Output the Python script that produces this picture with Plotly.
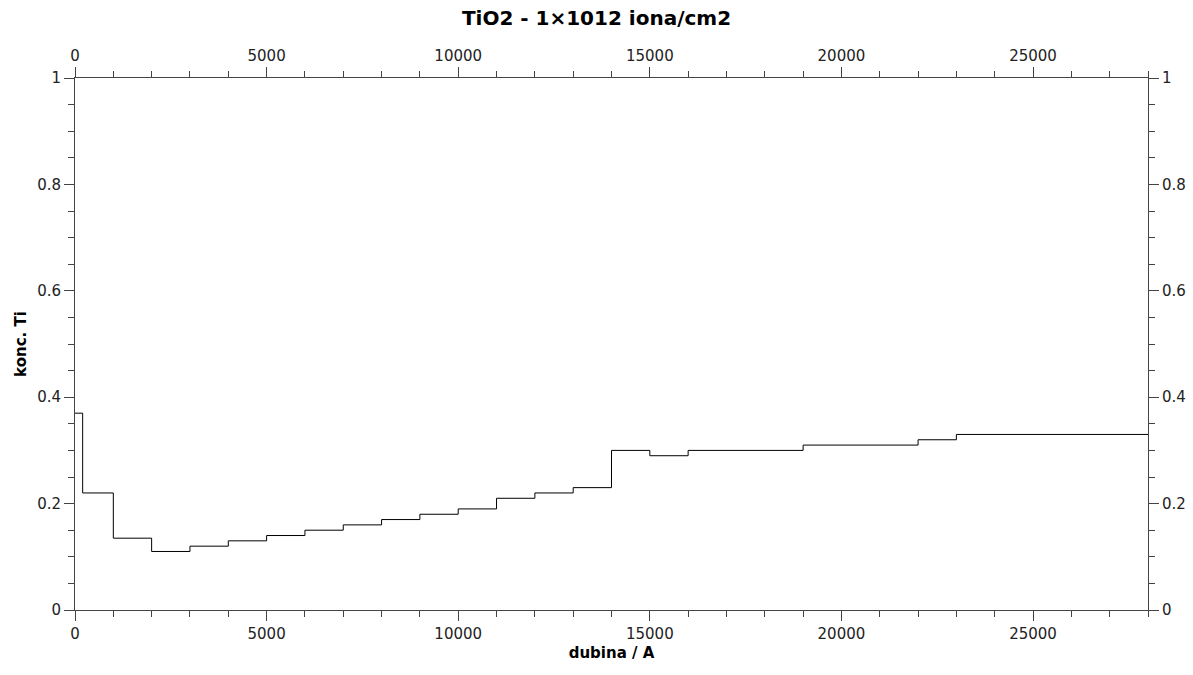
import plotly.graph_objects as go

# step profile: depth (A) start of each layer and Ti concentration
depth = [0, 200, 1000, 2000, 3000, 4000, 5000, 6000, 7000, 8000, 9000, 10000,
         11000, 12000, 13000, 14000, 15000, 16000, 19000, 22000, 23000, 28000]
conc = [0.37, 0.22, 0.135, 0.11, 0.12, 0.13, 0.14, 0.15, 0.16, 0.17, 0.18, 0.19,
        0.21, 0.22, 0.23, 0.30, 0.29, 0.30, 0.31, 0.32, 0.33, 0.33]

title_text = "TiO2 - 1×1012 iona/cm2"
x_title = "dubina / A"
y_title = "konc. Ti"
x_range = [0, 28000]
y_range = [0, 1]

FONT = "DejaVu Sans"
AX = "#444444"
TXT = "#222222"

fig = go.Figure()
fig.add_trace(go.Scatter(x=depth, y=conc, mode="lines", line_shape="hv",
                         line=dict(color="black", width=1), showlegend=False,
                         hoverinfo="skip"))
# invisible trace for mirrored axes
fig.add_trace(go.Scatter(x=[x_range[0]], y=[y_range[0]], xaxis="x2", yaxis="y2",
                         mode="markers", marker=dict(opacity=0), showlegend=False,
                         hoverinfo="skip"))

common_x = dict(range=x_range, dtick=5000, tick0=0, ticks="outside", ticklen=10,
                tickwidth=1, tickcolor=AX, showline=True, linecolor=AX, linewidth=1,
                showgrid=False, zeroline=False, tickformat="d", automargin=False,
                tickfont=dict(family=FONT, size=15, color=TXT),
                minor=dict(dtick=1000, ticks="outside", ticklen=6, tickcolor=AX,
                           tickwidth=1, showgrid=False))
common_y = dict(range=y_range, dtick=0.2, tick0=0, ticks="outside", ticklen=10,
                tickwidth=1, tickcolor=AX, showline=True, linecolor=AX, linewidth=1,
                showgrid=False, zeroline=False, automargin=False,
                tickfont=dict(family=FONT, size=15, color=TXT),
                minor=dict(dtick=0.05, ticks="outside", ticklen=6, tickcolor=AX,
                           tickwidth=1, showgrid=False))

fig.update_layout(
    width=1193, height=675,
    margin=dict(l=75, r=45, t=78, b=65, autoexpand=False),
    paper_bgcolor="white", plot_bgcolor="white",
    title=dict(text="<b>" + title_text + "</b>", x=0.5, xanchor="center",
               y=0.973, yanchor="middle",
               font=dict(family=FONT, size=20, color="black")),
    xaxis=dict(**common_x, side="bottom",
               title=dict(text="<b>" + x_title + "</b>", standoff=5,
                          font=dict(family=FONT, size=15, color="black"))),
    yaxis=dict(**common_y, side="left",
               title=dict(text="<b>" + y_title + "</b>", standoff=6,
                          font=dict(family=FONT, size=15, color="black"))),
    xaxis2=dict(**common_x, side="top", overlaying="x", anchor="y"),
    yaxis2=dict(**common_y, side="right", overlaying="y", anchor="x"),
)

fig.write_html("out.html")
